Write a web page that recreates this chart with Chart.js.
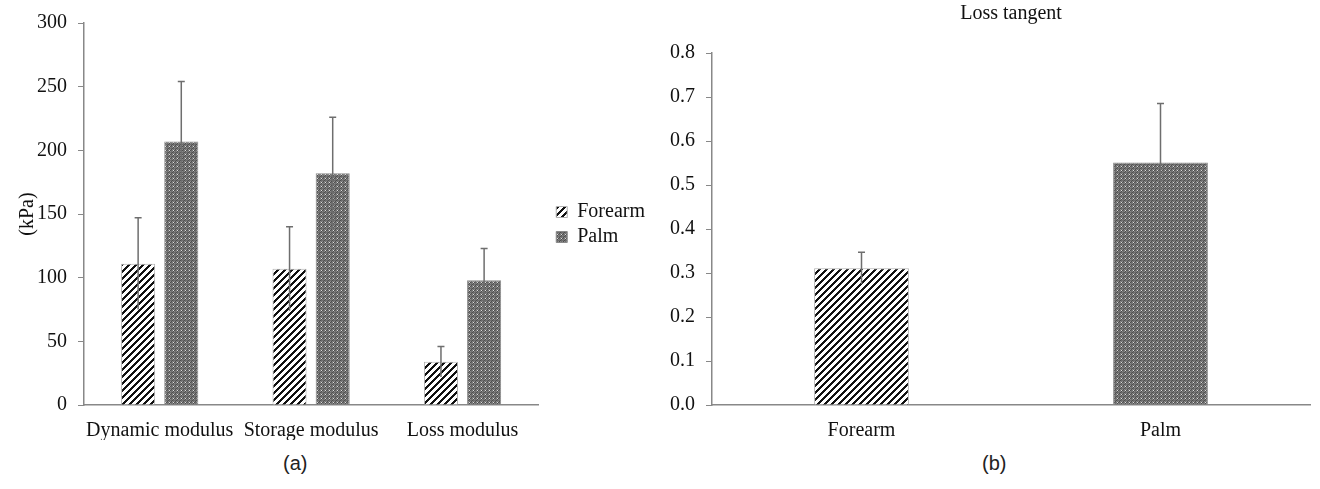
<!DOCTYPE html>
<html>
<head>
<meta charset="utf-8">
<script src="https://cdn.jsdelivr.net/npm/chart.js@4.4.0/dist/chart.umd.min.js"></script>
<style>
  body { margin: 0; background: #fff; width: 1320px; height: 489px; overflow: hidden; position: relative; }
  .wrap { position: absolute; top: 0; }
  .sub { position: absolute; top: 452px; font-family: "Liberation Sans", Arial, sans-serif; font-size: 20px; color: #222; }
</style>
</head>
<body>
<div class="wrap" style="left:0px;width:660px;height:440px"><canvas id="moduli-chart" width="660" height="440"></canvas></div>
<div class="wrap" style="left:660px;width:660px;height:440px"><canvas id="tangent-chart" width="660" height="440"></canvas></div>
<div class="sub" style="left:283px">(a)</div>
<div class="sub" style="left:982px">(b)</div>
<script>
/* data */

const moduliCategories = ["Dynamic modulus", "Storage modulus", "Loss modulus"];
const forearmModuli = [111, 107, 34];
const forearmModuliErr = [36, 33, 12];
const palmModuli = [207, 182, 98];
const palmModuliErr = [47, 44, 25];
const moduliTicks = [0, 50, 100, 150, 200, 250, 300];

const tangentCategories = ["Forearm", "Palm"];
const lossTangent = [0.311, 0.551];
const lossTangentErr = [0.036, 0.134];
const tangentTicks = [0, 0.1, 0.2, 0.3, 0.4, 0.5, 0.6, 0.7, 0.8];

const serif = "'Liberation Serif', 'Times New Roman', serif";

//build a canvas pattern from a small pixel rule
function makePattern(size, pixel) {
    const c = document.createElement("canvas");
    c.width = size;
    c.height = size;
    const cx = c.getContext("2d");
    for (let y = 0; y < size; y++) {
        for (let x = 0; x < size; x++) {
            cx.fillStyle = pixel(x, y);
            cx.fillRect(x, y, 1, 1);
        }
    }
    return cx.createPattern(c, "repeat");
}

//forearm: black "/" stripes on white
const stripes = makePattern(7, (x, y) => ((x + y) % 7) < 3 ? "#111" : "#fff");

//palm: dark grey texture with light dots
const dots = makePattern(8, (x, y) => {
    if (x % 4 === 1 && y % 4 === 2) return "#dcdcdc";
    if ((x + y) % 4 === 0) return "#4e4e4e";
    if (x % 2 === 0 && y % 2 === 1) return "#8a8a8a";
    return "#6c6c6c";
});

//error bars drawn through the y scale
const errorBars = {
    id: "errorBars",
    afterDatasetsDraw(chart) {
        const ctx = chart.ctx;
        const yScale = chart.scales.y;
        ctx.save();
        ctx.strokeStyle = "#6e6e6e";
        ctx.lineWidth = 1.5;
        chart.data.datasets.forEach((ds, i) => {
            const meta = chart.getDatasetMeta(i);
            meta.data.forEach((bar, j) => {
                const v = ds.data[j];
                const e = ds.errors[j];
                const top = yScale.getPixelForValue(v + e);
                const bottom = yScale.getPixelForValue(v - e);
                ctx.beginPath();
                ctx.moveTo(bar.x, bottom);
                ctx.lineTo(bar.x, top);
                ctx.moveTo(bar.x - 3.5, top);
                ctx.lineTo(bar.x + 3.5, top);
                ctx.stroke();
            });
        });
        ctx.restore();
    }
};

function yAxis(ticks, width, fmt) {
    return {
        min: ticks[0],
        max: ticks[ticks.length - 1],
        afterBuildTicks: scale => { scale.ticks = ticks.map(v => ({ value: v })); },
        afterFit: scale => { scale.width = width; },
        grid: { drawOnChartArea: false, drawTicks: true, tickLength: 6, color: "#888" },
        border: { display: true, color: "#888", width: 1.5 },
        ticks: { padding: 11, color: "#111", font: { family: serif, size: 20 }, callback: fmt }
    };
}

function xAxis() {
    return {
        afterFit: scale => { scale.height = 35; },
        grid: { display: false },
        border: { display: true, color: "#888", width: 1.5 },
        ticks: { padding: 6, color: "#111", font: { family: serif, size: 20 }, maxRotation: 0 }
    };
}

//chart (a): moduli
function drawModuliChart() {
    const ctx = document.getElementById("moduli-chart").getContext("2d");
    const scaleY = yAxis(moduliTicks, 84, v => v);
    scaleY.title = { display: true, text: "(kPa)", color: "#111", font: { family: serif, size: 20 }, padding: { top: 16, bottom: 0 } };
    //empty axis on the right only keeps a gap before the legend
    const gap = {
        position: "right",
        afterFit: scale => { scale.width = 13; },
        grid: { display: false },
        border: { display: false },
        ticks: { display: false }
    };
    new Chart(ctx, {
        type: "bar",
        data: {
            labels: moduliCategories,
            datasets: [
                { label: "Forearm", data: forearmModuli, errors: forearmModuliErr, backgroundColor: stripes, borderColor: "#b0b0b0", borderWidth: 1 },
                { label: "Palm", data: palmModuli, errors: palmModuliErr, backgroundColor: dots, borderColor: "#8a8a8a", borderWidth: 1 }
            ]
        },
        options: {
            responsive: false,
            animation: false,
            categoryPercentage: 0.57,
            barPercentage: 0.79,
            layout: { padding: { top: 23, right: 5, left: 0, bottom: 0 } },
            plugins: {
                legend: {
                    position: "right",
                    align: "start",
                    title: { display: true, text: "", font: { size: 10 }, padding: { top: 0, bottom: 162 } },
                    labels: { boxWidth: 11, boxHeight: 11, padding: 5, color: "#111", font: { family: serif, size: 20 } }
                },
                tooltip: { enabled: false }
            },
            scales: { x: xAxis(), y: scaleY, gap: gap }
        },
        plugins: [errorBars]
    });
}

//chart (b): loss tangent
function drawTangentChart() {
    const ctx = document.getElementById("tangent-chart").getContext("2d");
    new Chart(ctx, {
        type: "bar",
        data: {
            labels: tangentCategories,
            datasets: [
                { label: "Loss tangent", data: lossTangent, errors: lossTangentErr, backgroundColor: [stripes, dots], borderColor: ["#b0b0b0", "#8a8a8a"], borderWidth: 1 }
            ]
        },
        options: {
            responsive: false,
            animation: false,
            categoryPercentage: 1,
            barPercentage: 0.317,
            layout: { padding: { top: 0, right: 10, left: 0, bottom: 0 } },
            plugins: {
                legend: { display: false },
                title: { display: true, fullSize: false, text: "Loss tangent", color: "#111", font: { family: serif, size: 20, weight: "normal" }, padding: { top: 2, bottom: 27 } },
                tooltip: { enabled: false }
            },
            scales: { x: xAxis(), y: yAxis(tangentTicks, 52, v => v.toFixed(1)) }
        },
        plugins: [errorBars]
    });
}

drawModuliChart();
drawTangentChart();
</script>
</body>
</html>
